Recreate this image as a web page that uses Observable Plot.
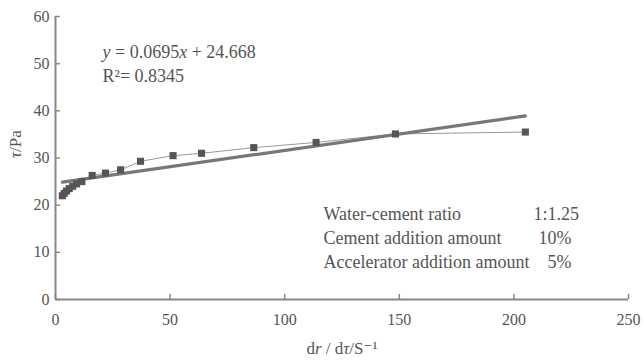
<!DOCTYPE html>
<html>
<head>
<meta charset="utf-8">
<script src="https://cdn.jsdelivr.net/npm/d3@7"></script>
<script src="https://cdn.jsdelivr.net/npm/@observablehq/plot@0.6"></script>
<style>
  html, body { margin: 0; padding: 0; background: #fff; }
  #chart svg { display: block; }
</style>
</head>
<body>
<div id="chart"></div>
<script>
// ---- data ----
const shearRate   = [3.0, 3.8, 4.8, 6.0, 7.5, 9.2, 11.5, 16.0, 21.8, 28.4, 37.1, 51.3, 63.7, 86.5, 113.7, 148.3, 205.0];
const shearStress = [22.0, 22.5, 23.0, 23.5, 24.0, 24.5, 25.0, 26.3, 26.8, 27.5, 29.3, 30.5, 31.0, 32.2, 33.3, 35.1, 35.5];
const xTicks = [0, 50, 100, 150, 200, 250];
const yTicks = [0, 10, 20, 30, 40, 50, 60];
const fitSlope = 0.0695;
const fitIntercept = 24.668;
const equationText = "y = 0.0695x + 24.668";
const r2Text = "R\u00B2= 0.8345";
const legendLabels = ["Water-cement ratio", "Cement addition amount", "Accelerator addition amount"];
const legendValues = ["1:1.25", "10%", "5%"];
const xLabel = "dr / d\u03C4/S\u207B\u00B9";
const yLabel = "\u03C4/Pa";

const points = shearRate.map((x, i) => ({x, y: shearStress[i]}));
const fitX = [d3.min(shearRate), d3.max(shearRate)];
const fitLine = fitX.map(x => ({x, y: fitSlope * x + fitIntercept}));

const font = "'Liberation Serif', 'DejaVu Serif', serif";
const grey = "#555";

const legendDy = [191, 215, 239];
const valueDx = [478, 483, 492];

const chart = Plot.plot({
  width: 644,
  height: 361,
  marginLeft: 55,
  marginRight: 16,
  marginTop: 16,
  marginBottom: 62,
  style: {fontFamily: font, fontSize: "16px", color: grey, background: "#fff"},
  x: {domain: [0, 250]},
  y: {domain: [0, 60]},
  marks: [
    Plot.axisX({ticks: xTicks, tickSize: -5, tickPadding: 19, label: null, stroke: "#888", strokeWidth: 1.5, fill: grey, fontSize: 16}),
    Plot.axisY({ticks: yTicks, tickSize: -5, tickPadding: 11, label: null, stroke: "#888", strokeWidth: 1.5, fill: grey, fontSize: 16}),
    Plot.ruleY([0], {stroke: "#888", strokeWidth: 2}),
    Plot.ruleX([0], {stroke: "#888", strokeWidth: 2}),
    Plot.line(points, {x: "x", y: "y", stroke: "#999", strokeWidth: 1}),
    Plot.line(fitLine, {x: "x", y: "y", stroke: "#777", strokeWidth: 3.2}),
    Plot.dot(points, {x: "x", y: "y", symbol: "square", r: 4, fill: grey, stroke: null}),
    Plot.text([equationText], {frameAnchor: "top-left", dx: 47, dy: 29, textAnchor: "start", fontSize: 18, fill: grey}),
    Plot.text([r2Text], {frameAnchor: "top-left", dx: 47, dy: 53, textAnchor: "start", fontSize: 18, fill: grey}),
    ...legendLabels.map((t, i) => Plot.text([t], {frameAnchor: "top-left", dx: 268, dy: legendDy[i], textAnchor: "start", fontSize: 18, fill: grey})),
    ...legendValues.map((t, i) => Plot.text([t], {frameAnchor: "top-left", dx: valueDx[i], dy: legendDy[i], textAnchor: "start", fontSize: 18, fill: grey})),
    Plot.text([xLabel], {frameAnchor: "bottom", dy: 54, fontSize: 17, fill: grey}),
    Plot.text([yLabel], {frameAnchor: "left", dx: -40, rotate: -90, fontSize: 17, fill: grey})
  ]
});

// italicise variable letters
d3.select(chart).selectAll("text").each(function() {
  const t = this.textContent;
  if (t === equationText) {
    this.innerHTML = '<tspan font-style="italic">y</tspan> = 0.0695<tspan font-style="italic">x</tspan> + 24.668';
  } else if (t === xLabel) {
    this.innerHTML = 'd<tspan font-style="italic">r</tspan> / d<tspan font-style="italic">\u03C4</tspan>/S\u207B\u00B9';
  } else if (t === yLabel) {
    this.innerHTML = '<tspan font-style="italic">\u03C4</tspan>/Pa';
  }
});

document.getElementById("chart").appendChild(chart);
</script>
</body>
</html>
